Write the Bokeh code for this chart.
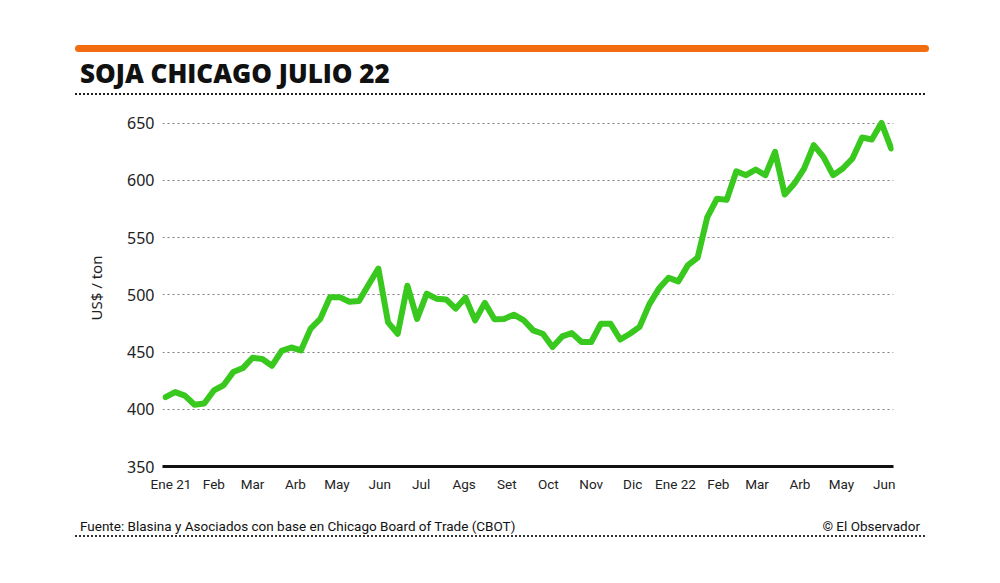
import pandas as pd
from bokeh.plotting import figure
from bokeh.layouts import column
from bokeh.models import Range1d, FixedTicker, Div
from bokeh.embed import file_html
from bokeh.resources import INLINE

# ---------------- data ----------------
title_text = "SOJA CHICAGO JULIO 22"
y_label = "US$ / ton"
source_text = "Fuente: Blasina y Asociados con base en Chicago Board of Trade (CBOT)"
credit_text = "© El Observador"

start_date = "2020-12-28"
weeks = pd.date_range(start_date, periods=76, freq="7D")

prices = [
    410.6, 415.0, 412.0, 404.0, 405.0, 416.5, 421.0, 432.5, 436.0, 445.0,
    444.0, 438.0, 451.0, 454.0, 451.5, 470.5, 479.0, 498.0, 498.0, 494.0,
    494.6, 509.0, 523.0, 476.0, 466.0, 508.0, 479.0, 501.0, 496.7, 496.0,
    488.0, 497.6, 477.7, 493.0, 478.6, 479.0, 482.7, 478.0, 469.0, 466.0,
    454.4, 463.7, 466.6, 458.8, 458.8, 474.8, 474.8, 461.0, 466.0, 472.0,
    491.7, 505.5, 515.0, 511.8, 526.0, 532.6, 568.0, 584.0, 583.0, 608.0,
    604.6, 609.6, 604.6, 625.0, 587.7, 597.3, 610.4, 630.8, 620.6, 604.6,
    610.4, 619.2, 637.5, 635.8, 650.3, 628.0,
]

month_starts = pd.date_range("2021-01-01", "2022-06-01", freq="MS")
month_labels = ["Ene 21", "Feb", "Mar", "Arb", "May", "Jun", "Jul", "Ags", "Set",
                "Oct", "Nov", "Dic", "Ene 22", "Feb", "Mar", "Arb", "May", "Jun"]

y_ticks = [350, 400, 450, 500, 550, 600, 650]
grid_levels = [400, 450, 500, 550, 600, 650]

# ---------------- derived ----------------
t0 = pd.Timestamp(start_date)
x_days = [(d - t0).days for d in weeks]
tick_days = [(d - t0).days for d in month_starts]

W = 1000

# ---------------- header ----------------
header_html = f"""
<div style="position:relative;width:{W}px;height:109px;margin:0;padding:0;">
  <div style="position:absolute;left:75px;top:45px;width:854px;height:7px;background:#f26d10;border-radius:4px;"></div>
  <div style="position:absolute;left:80px;top:58px;font-family:'Open Sans';font-weight:800;font-size:26px;line-height:30px;color:#111111;white-space:nowrap;">{title_text}</div>
  <div style="position:absolute;left:75px;top:93px;width:850px;height:0;border-top:2px dotted #222222;"></div>
</div>
"""
hdr = Div(text=header_html, width=W, height=109, margin=0)

# ---------------- main chart ----------------
p = figure(frame_width=731, frame_height=357, output_backend="svg", toolbar_location=None,
           x_range=Range1d(-2.17, 526.7), y_range=Range1d(350, 662),
           min_border_left=162, min_border_right=107, min_border_top=0, min_border_bottom=39,
           outline_line_color=None, margin=0)

p.line(x_days, prices, line_color="#38c81e", line_width=6, line_join="round", line_cap="round")

p.xgrid.visible = False
p.ygrid.ticker = FixedTicker(ticks=grid_levels)
p.ygrid.grid_line_color = "#7f7f7f"
p.ygrid.grid_line_dash = "2 3"
p.ygrid.grid_line_width = 1

p.yaxis.ticker = FixedTicker(ticks=y_ticks)
p.yaxis.axis_line_color = None
p.yaxis.major_tick_line_color = None
p.yaxis.minor_tick_line_color = None
p.yaxis.major_tick_out = 0
p.yaxis.major_tick_in = 0
p.yaxis.major_label_text_font = "Noto Sans"
p.yaxis.major_label_text_font_size = "16px"
p.yaxis.major_label_text_color = "#222222"
p.yaxis.major_label_standoff = 8
p.yaxis.axis_label = y_label
p.yaxis.axis_label_text_font = "Noto Sans"
p.yaxis.axis_label_text_font_size = "15px"
p.yaxis.axis_label_text_font_style = "normal"
p.yaxis.axis_label_text_color = "#222222"
p.yaxis.axis_label_standoff = 18

p.xaxis.ticker = FixedTicker(ticks=tick_days)
p.xaxis.major_label_overrides = {d: lab for d, lab in zip(tick_days, month_labels)}
p.xaxis.axis_line_color = "#111111"
p.xaxis.axis_line_width = 3
p.xaxis.major_tick_line_color = None
p.xaxis.minor_tick_line_color = None
p.xaxis.major_tick_out = 0
p.xaxis.major_tick_in = 0
p.xaxis.major_label_text_font = "Roboto"
p.xaxis.major_label_text_font_size = "13.5px"
p.xaxis.major_label_text_color = "#222222"
p.xaxis.major_label_standoff = 9

# ---------------- footer ----------------
footer_html = f"""
<div style="position:relative;width:{W}px;height:70px;margin:0;padding:0;font-family:'Roboto';font-size:13.5px;color:#111111;">
  <div style="position:absolute;left:80px;top:13px;line-height:16px;white-space:nowrap;">{source_text}</div>
  <div style="position:absolute;right:80px;top:13px;line-height:16px;white-space:nowrap;">{credit_text}</div>
  <div style="position:absolute;left:75px;top:30px;width:850px;height:0;border-top:2px dotted #333333;"></div>
</div>
"""
ftr = Div(text=footer_html, width=W, height=70, margin=0)

layout = column(hdr, p, ftr, spacing=0)
open("out.html", "w").write(file_html(layout, INLINE))
